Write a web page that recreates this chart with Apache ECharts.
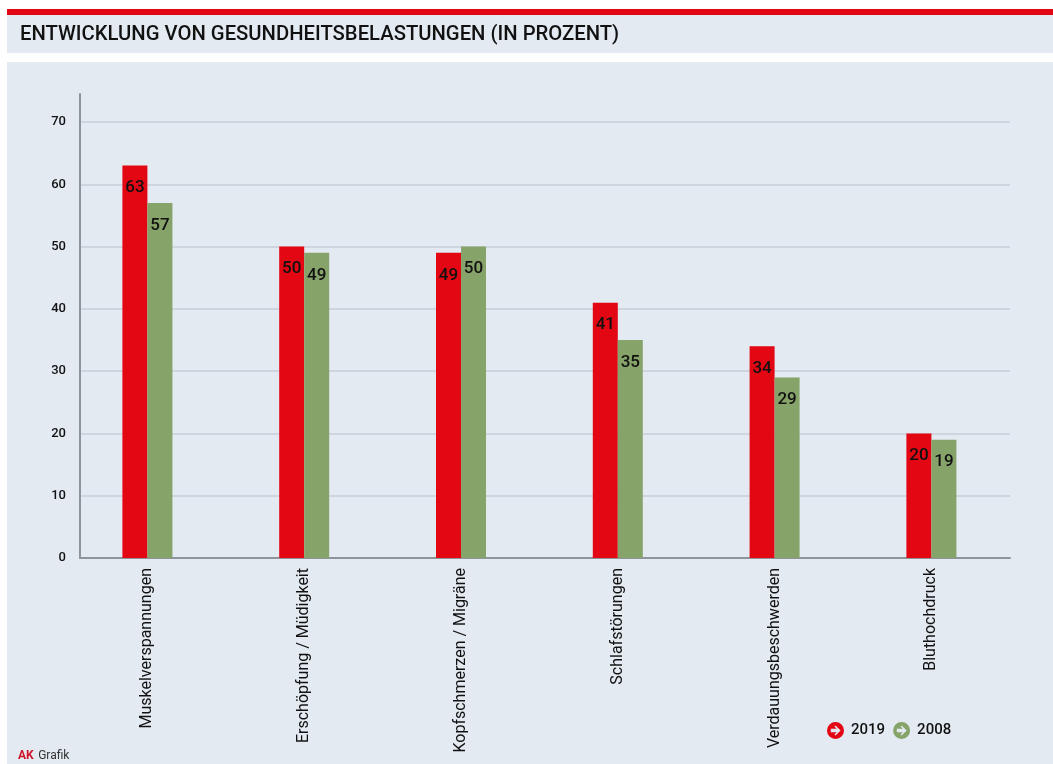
<!DOCTYPE html>
<html><head><meta charset="utf-8">
<style>html,body{margin:0;padding:0;background:#fff}#c{width:1053px;height:764px}</style>
<script src="https://cdn.jsdelivr.net/npm/echarts@6/dist/echarts.min.js"></script>
</head><body><div id="c"></div>
<script>
const categories = ["Muskelverspannungen","Erschöpfung / Müdigkeit","Kopfschmerzen / Migräne","Schlafstörungen","Verdauungsbeschwerden","Bluthochdruck"];
const values2019 = [63,50,49,41,34,20];
const values2008 = [57,49,50,35,29,19];
const titleText = "ENTWICKLUNG VON GESUNDHEITSBELASTUNGEN (IN PROZENT)";
const RED="#e30613", GREEN="#86a369", PANEL="#e3eaf2", FONT="Roboto";
const ICON="path://M50 0A50 50 0 1 1 50 100A50 50 0 1 1 50 0ZM50 20L44 27L57 40L22 40L22 60L57 60L44 73L50 80L80 50Z";
const chart = echarts.init(document.getElementById('c'),null,{renderer:'canvas'});
const barLabel={show:true,position:'insideTop',distance:14,color:'#111',fontFamily:FONT,fontWeight:500,fontSize:17};
chart.setOption({
  animation:false,
  backgroundColor:'#fff',
  textStyle:{fontFamily:FONT},
  graphic:[
    {type:'rect',z:-10,silent:true,shape:{x:7,y:9,width:1046,height:6},style:{fill:RED}},
    {type:'rect',z:-10,silent:true,shape:{x:7,y:15,width:1046,height:38},style:{fill:PANEL}},
    {type:'rect',z:-10,silent:true,shape:{x:7,y:62,width:1046,height:702},style:{fill:PANEL}}
  ],
  title:[
    {text:titleText,left:20,top:25,padding:0,textStyle:{fontFamily:FONT,fontSize:20.25,fontWeight:500,color:'#111'}},
    {text:'{a|AK} {b|Grafik}',left:18,top:747,padding:0,textStyle:{rich:{
      a:{fontFamily:FONT,fontSize:12,fontWeight:700,color:'#d0152b'},
      b:{fontFamily:FONT,fontSize:12,fontWeight:400,color:'#333'}}}}
  ],
  legend:{left:822,top:717,itemWidth:17,itemHeight:17,itemGap:8,
    data:[{name:'2019',icon:ICON},{name:'2008',icon:ICON}],
    textStyle:{fontFamily:FONT,fontSize:15,fontWeight:500,color:'#111',padding:[0,0,0,2]}},
  grid:[
    {left:80,top:94,width:930,height:464},
    {left:69,top:94,width:940.8,height:464}
  ],
  xAxis:[
    {gridIndex:0,type:'value',min:0,max:1,axisLine:{show:true,onZero:false,lineStyle:{color:'#8d949b',width:2}},axisTick:{show:false},axisLabel:{show:false},splitLine:{show:false}},
    {gridIndex:1,type:'category',data:categories,axisLine:{show:false},axisTick:{show:false},
      axisLabel:{rotate:90,margin:10,interval:0,color:'#111',fontFamily:FONT,fontSize:16,fontWeight:400}}
  ],
  yAxis:[
    {gridIndex:0,type:'value',min:0,max:74.5,interval:10,
      axisLine:{show:true,lineStyle:{color:'#8d949b',width:2}},axisTick:{show:false},
      axisLabel:{margin:14,showMaxLabel:false,color:'#111',fontFamily:FONT,fontSize:13,fontWeight:500,padding:[2,0,0,0]},
      splitLine:{show:true,showMaxLine:false,lineStyle:{color:'#c9ced8',width:1.5}}},
    {gridIndex:1,type:'value',min:0,max:74.5,interval:10,show:false,splitLine:{show:false}}
  ],
  series:[
    {name:'2019',type:'bar',xAxisIndex:1,yAxisIndex:1,data:values2019,barWidth:25,barGap:0,itemStyle:{color:RED},label:barLabel},
    {name:'2008',type:'bar',xAxisIndex:1,yAxisIndex:1,data:values2008,barWidth:25,barGap:0,itemStyle:{color:GREEN},label:barLabel}
  ]
});
</script></body></html>
